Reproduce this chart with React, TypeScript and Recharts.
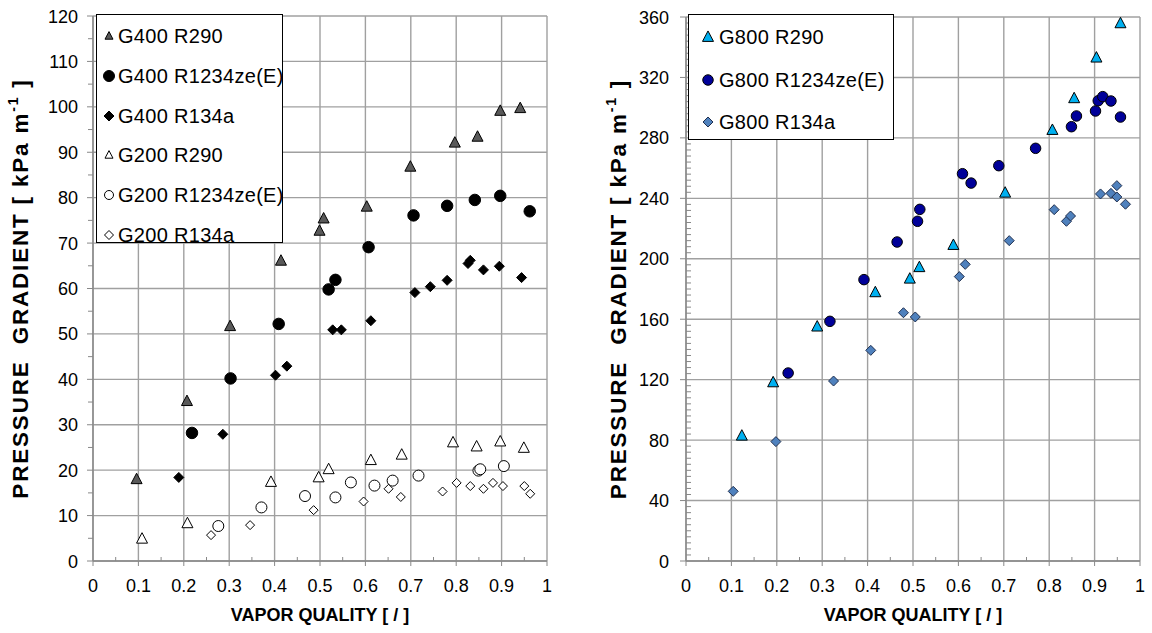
import { ScatterChart, Scatter, XAxis, YAxis, CartesianGrid, Label } from "recharts";

// vapor quality [-] vs pressure gradient [kPa/m]
const g400R290 = [
  [0.096, 18.0], [0.207, 35.2], [0.302, 51.7], [0.414, 66.1], [0.499, 72.7], [0.508, 75.4],
  [0.603, 78.0], [0.699, 86.8], [0.797, 92.1], [0.847, 93.4], [0.897, 99.1], [0.941, 99.7],
];
const g400R1234 = [
  [0.218, 28.2], [0.303, 40.2], [0.409, 52.2], [0.519, 59.8], [0.534, 61.9], [0.607, 69.1],
  [0.706, 76.1], [0.78, 78.2], [0.841, 79.5], [0.897, 80.4], [0.962, 77.0],
];
const g400R134a = [
  [0.189, 18.4], [0.286, 27.9], [0.402, 40.9], [0.427, 42.9], [0.528, 50.9], [0.547, 50.9],
  [0.612, 52.9], [0.709, 59.1], [0.743, 60.4], [0.78, 61.8], [0.826, 65.5], [0.831, 66.2],
  [0.86, 64.1], [0.895, 64.9], [0.944, 62.4],
];
const g200R290 = [
  [0.108, 4.9], [0.208, 8.3], [0.392, 17.4], [0.497, 18.4], [0.519, 20.2], [0.612, 22.2],
  [0.68, 23.4], [0.793, 26.1], [0.845, 25.2], [0.897, 26.3], [0.949, 24.9],
];
const g200R1234 = [
  [0.276, 7.7], [0.371, 11.8], [0.467, 14.3], [0.534, 14.0], [0.568, 17.3], [0.62, 16.6],
  [0.66, 17.7], [0.717, 18.8], [0.849, 19.9], [0.853, 20.2], [0.905, 20.9],
];
const g200R134a = [
  [0.26, 5.7], [0.346, 7.9], [0.486, 11.2], [0.596, 13.1], [0.651, 15.9], [0.678, 14.1],
  [0.77, 15.3], [0.801, 17.2], [0.831, 16.5], [0.86, 15.9], [0.881, 17.2], [0.903, 16.5],
  [0.95, 16.5], [0.963, 14.8],
];

const g800R290 = [
  [0.123, 82.9], [0.192, 118.2], [0.289, 155.1], [0.417, 177.8], [0.493, 186.8], [0.514, 194.4],
  [0.589, 209.1], [0.703, 243.7], [0.807, 285.2], [0.855, 306.2], [0.904, 333.1], [0.957, 355.8],
];
const g800R1234 = [
  [0.225, 124.4], [0.317, 158.6], [0.392, 186.2], [0.465, 211.1], [0.51, 224.8], [0.515, 232.7],
  [0.609, 256.3], [0.628, 250.1], [0.689, 261.6], [0.77, 273.1], [0.849, 287.4], [0.86, 294.5],
  [0.902, 297.8], [0.908, 304.6], [0.918, 307.3], [0.936, 304.4], [0.957, 293.8],
];
const g800R134a = [
  [0.104, 46.1], [0.198, 79.0], [0.325, 119.1], [0.407, 139.4], [0.479, 164.3], [0.505, 161.5],
  [0.602, 188.2], [0.615, 196.3], [0.712, 212.0], [0.811, 232.5], [0.838, 224.8], [0.847, 228.3],
  [0.913, 242.9], [0.936, 243.3], [0.949, 248.4], [0.949, 240.9], [0.968, 236.1],
];

const xMajor = [0, 0.1, 0.2, 0.3, 0.4, 0.5, 0.6, 0.7, 0.8, 0.9, 1];
const xMinor = [0.05, 0.15, 0.25, 0.35, 0.45, 0.55, 0.65, 0.75, 0.85, 0.95];
const yMajorLeft = [0, 10, 20, 30, 40, 50, 60, 70, 80, 90, 100, 110, 120];
const yMajorRight = [0, 40, 80, 120, 160, 200, 240, 280, 320, 360];

const yMinorLeft = yMajorLeft.slice(1).map((v) => v - 5);
const yMinorRight: number[] = [];
for (let v = 4; v < 360; v += 4) if (v % 40 !== 0) yMinorRight.push(v);

const toPts = (arr: number[][]) => arr.map(([x, y]) => ({ x, y }));

const FONT = "'Liberation Sans', Arial, sans-serif";
const GRID = "#a0a0a0";

type MarkerProps = { cx: number; cy: number; kind: string; fill: string; stroke: string; s: number };

function Marker({ cx, cy, kind, fill, stroke, s }: MarkerProps) {
  if (kind === "triangle") {
    const pts = `${cx},${cy - s * 0.55} ${cx + s / 2},${cy + s * 0.4} ${cx - s / 2},${cy + s * 0.4}`;
    return <polygon points={pts} fill={fill} stroke={stroke} strokeWidth={1} />;
  }
  if (kind === "diamond") {
    const h = s / 2;
    const pts = `${cx},${cy - h} ${cx + h},${cy} ${cx},${cy + h} ${cx - h},${cy}`;
    return <polygon points={pts} fill={fill} stroke={stroke} strokeWidth={1} />;
  }
  return <circle cx={cx} cy={cy} r={s / 2} fill={fill} stroke={stroke} strokeWidth={1} />;
}

const leftSeries = [
  { name: "G400 R290", data: g400R290, kind: "triangle", fill: "#595959", stroke: "#000", s: 11, ls: 8 },
  { name: "G400 R1234ze(E)", data: g400R1234, kind: "circle", fill: "#000", stroke: "#000", s: 11.5, ls: 11 },
  { name: "G400 R134a", data: g400R134a, kind: "diamond", fill: "#000", stroke: "#000", s: 10, ls: 10 },
  { name: "G200 R290", data: g200R290, kind: "triangle", fill: "#fff", stroke: "#000", s: 11, ls: 8 },
  { name: "G200 R1234ze(E)", data: g200R1234, kind: "circle", fill: "#fff", stroke: "#000", s: 11, ls: 9 },
  { name: "G200 R134a", data: g200R134a, kind: "diamond", fill: "#fff", stroke: "#000", s: 9, ls: 9 },
];

const rightSeries = [
  { name: "G800 R290", data: g800R290, kind: "triangle", fill: "#00b0f0", stroke: "#000", s: 11, ls: 11 },
  { name: "G800 R1234ze(E)", data: g800R1234, kind: "circle", fill: "#000099", stroke: "#000", s: 10.5, ls: 10.5 },
  { name: "G800 R134a", data: g800R134a, kind: "diamond", fill: "#4f81bd", stroke: "#1f2f4f", s: 10, ls: 10 },
];

const fmtX = (v: number) => (v === 0 ? "0" : v === 1 ? "1" : v.toFixed(1));

function XTick(props: any) {
  const { x, y, payload } = props;
  const v = payload.value;
  const major = xMajor.some((m) => Math.abs(m - v) < 1e-6);
  if (!major) return <line x1={x} x2={x} y1={y - 4} y2={y} stroke="#888" />;
  return (
    <g>
      <line x1={x} x2={x} y1={y} y2={y + 5} stroke="#888" />
      <text x={x} y={y + 31} textAnchor="middle" fontSize={18} fontFamily={FONT} fill="#000">
        {fmtX(v)}
      </text>
    </g>
  );
}

function makeYTick(majors: number[], minorInside: boolean, gap: number) {
  return function YTick(props: any) {
    const { x, y, payload } = props;
    const v = payload.value;
    const major = majors.includes(v);
    if (!major) {
      return minorInside ? (
        <line x1={x} x2={x + 5} y1={y} y2={y} stroke="#888" />
      ) : (
        <line x1={x - 5} x2={x} y1={y} y2={y} stroke="#888" />
      );
    }
    return (
      <g>
        <line x1={x - 6} x2={x} y1={y} y2={y} stroke="#888" />
        <text x={x - gap} y={y + 6.5} textAnchor="end" fontSize={18} fontFamily={FONT} fill="#000">
          {v}
        </text>
      </g>
    );
  };
}

function YTitle({ viewBox, dx }: any) {
  const cx = viewBox.x + dx;
  const cy = viewBox.y + viewBox.height / 2;
  return (
    <text
      x={cx}
      y={cy}
      transform={`rotate(-90 ${cx} ${cy})`}
      textAnchor="middle"
      dominantBaseline="middle"
      fontSize={22.5}
      fontWeight="bold"
      fontFamily={FONT}
      fill="#000"
      style={{ whiteSpace: "pre", letterSpacing: 1.8 }}
    >
      {"PRESSURE  GRADIENT [ kPa m"}
      <tspan dy={-8} fontSize={14}>-1</tspan>
      <tspan dy={8}>{" ]"}</tspan>
    </text>
  );
}

function XTitle({ viewBox }: any) {
  return (
    <text
      x={viewBox.x + viewBox.width / 2}
      y={viewBox.y + 60}
      textAnchor="middle"
      fontSize={18}
      fontWeight="bold"
      fontFamily={FONT}
      fill="#000"
      style={{ whiteSpace: "pre" }}
    >
      VAPOR QUALITY [ / ]
    </text>
  );
}

function LegendBox({ series, style, step, top, mx, tx }: any) {
  return (
    <div
      style={{
        position: "absolute",
        background: "#fff",
        border: "1.3px solid #000",
        boxSizing: "border-box",
        fontFamily: FONT,
        fontSize: 20,
        letterSpacing: 0.3,
        ...style,
      }}
    >
      {series.map((s: any, i: number) => (
        <div key={s.name} style={{ position: "absolute", left: 0, top: top + i * step - 12, height: 24, whiteSpace: "nowrap" }}>
          <svg width={24} height={24} style={{ position: "absolute", left: mx - 12, top: 0 }}>
            <Marker cx={12} cy={12} kind={s.kind} fill={s.fill} stroke={s.stroke} s={s.ls} />
          </svg>
          <span style={{ position: "absolute", left: tx, top: 0, lineHeight: "24px" }}>{s.name}</span>
        </div>
      ))}
    </div>
  );
}

function Panel({ series, yMax, majors, minors, inside, gap, yWidth, titleDx, top }: any) {
  return (
    <ScatterChart width={yWidth + 454 + 12} height={633} margin={{ top, right: 12, bottom: 0, left: 0 }}>
      <CartesianGrid stroke={GRID} strokeWidth={1.4} verticalValues={xMajor} horizontalValues={majors} />
      <XAxis
        type="number"
        dataKey="x"
        domain={[0, 1]}
        ticks={[...xMajor, ...xMinor].sort((a, b) => a - b)}
        interval={0}
        height={72}
        tickSize={0}
        tickMargin={0}
        tickLine={false}
        axisLine={{ stroke: "#888", strokeWidth: 1.4 }}
        tick={<XTick />}
      >
        <Label content={(p: any) => <XTitle {...p} />} />
      </XAxis>
      <YAxis
        type="number"
        dataKey="y"
        domain={[0, yMax]}
        ticks={[...majors, ...minors].sort((a, b) => a - b)}
        interval={0}
        width={yWidth}
        tickSize={0}
        tickMargin={0}
        tickLine={false}
        axisLine={{ stroke: "#888", strokeWidth: 1.4 }}
        tick={makeYTick(majors, inside, gap)}
      >
        <Label content={(p: any) => <YTitle {...p} dx={titleDx} />} />
      </YAxis>
      {series.map((s: any) => (
        <Scatter
          key={s.name}
          name={s.name}
          data={toPts(s.data)}
          isAnimationActive={false}
          shape={(p: any) => <Marker cx={p.cx} cy={p.cy} kind={s.kind} fill={s.fill} stroke={s.stroke} s={s.s} />}
        />
      ))}
    </ScatterChart>
  );
}

export default function App() {
  return (
    <div style={{ position: "absolute", left: 0, top: 0, width: 1152, height: 633, background: "#fff", overflow: "hidden" }}>
      <div style={{ position: "absolute", left: 0, top: 0 }}>
        <Panel
          series={leftSeries}
          yMax={120}
          majors={yMajorLeft}
          minors={yMinorLeft}
          inside={false}
          gap={15}
          yWidth={93}
          titleDx={22}
          top={16}
        />
        <LegendBox series={leftSeries} style={{ left: 96, top: 14, width: 187, height: 229 }} step={39.8} top={21} mx={12} tx={21} />
      </div>
      <div style={{ position: "absolute", left: 590, top: 0 }}>
        <Panel
          series={rightSeries}
          yMax={360}
          majors={yMajorRight}
          minors={yMinorRight}
          inside={true}
          gap={17}
          yWidth={96}
          titleDx={30}
          top={17}
        />
        <LegendBox series={rightSeries} style={{ left: 98, top: 14, width: 206, height: 126 }} step={42.5} top={22} mx={19} tx={30} />
      </div>
    </div>
  );
}
